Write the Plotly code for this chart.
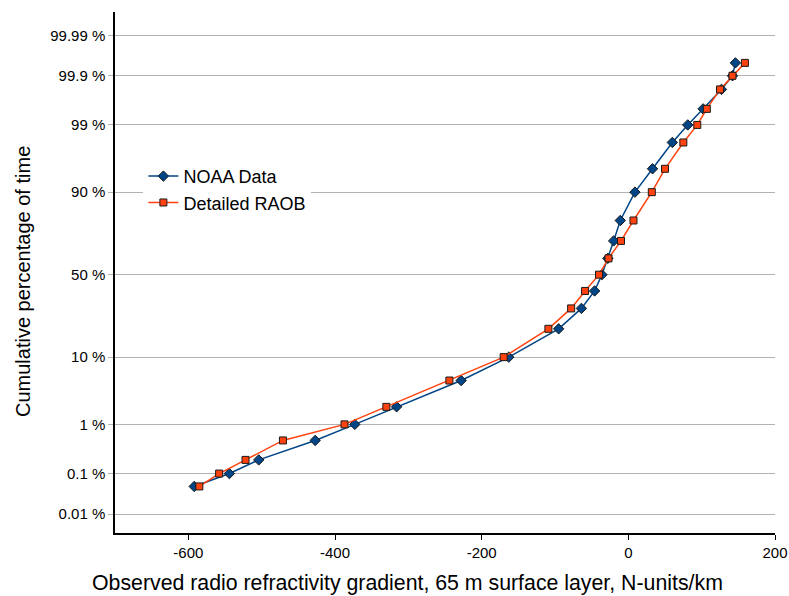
import plotly.graph_objects as go
from statistics import NormalDist

# Cumulative percentages (%) at which both series are sampled
percent = [0.05, 0.1, 0.2, 0.5, 1, 2, 5, 10, 20, 30, 40, 50, 60, 70, 80,
           90, 95, 98, 99, 99.5, 99.8, 99.9, 99.95]

# Observed radio refractivity gradient (N-units/km)
noaa = [-592, -544, -504, -427, -373, -316, -228, -163, -95, -64, -46, -36,
        -28, -20, -11, 9, 33, 60, 81, 102, 127, 142, 146]
raob = [-585, -558, -522, -471, -387, -330, -244, -170, -109, -78, -59, -40,
        -27, -10, 7, 32, 50, 75, 94, 107, 125, 142, 159]

# Probability-scale tick labels
tick_percent = [0.01, 0.1, 1, 10, 50, 90, 99, 99.9, 99.99]
tick_text = ["0.01 %", "0.1 %", "1 %", "10 %", "50 %", "90 %", "99 %", "99.9 %", "99.99 %"]

# X-axis ticks
x_ticks = [-600, -400, -200, 0, 200]
x_tick_text = ["-600", "-400", "-200", "0", "200"]

x_title = "Observed radio refractivity gradient, 65 m surface layer, N-units/km"
y_title = "Cumulative percentage of time"

nd = NormalDist()
def probit(p):
    return nd.inv_cdf(p / 100.0)

fig = go.Figure()
fig.add_trace(go.Scatter(
    x=noaa, y=[probit(p) for p in percent], name="NOAA Data",
    mode="lines+markers",
    line=dict(color="#004586", width=1.5),
    marker=dict(symbol="diamond", size=8, color="#004586",
                line=dict(color="#1a1a1a", width=1)),
))
fig.add_trace(go.Scatter(
    x=raob, y=[probit(p) for p in percent], name="Detailed RAOB",
    mode="lines+markers",
    line=dict(color="#ff420e", width=1.5),
    marker=dict(symbol="square", size=7, color="#ff420e",
                line=dict(color="#1a1a1a", width=1)),
))

fig.update_layout(
    width=789, height=596,
    margin=dict(l=115, r=14, t=12, b=63),
    paper_bgcolor="white", plot_bgcolor="white",
    font=dict(family="Liberation Sans, Arial, sans-serif", color="#000000", size=15),
    showlegend=True,
    legend=dict(x=0.043, y=0.72, xanchor="left", yanchor="top",
                bgcolor="white", borderwidth=0,
                font=dict(size=18, color="#000000"),
                tracegroupgap=0, itemwidth=30),
    xaxis=dict(
        range=[-700, 200], tickvals=x_ticks, ticktext=x_tick_text,
        showgrid=False, zeroline=False, automargin=False,
        showline=True, linecolor="#000000", linewidth=1.5,
        ticks="outside", ticklen=5, tickcolor="#000000",
        tickfont=dict(size=15, color="#000000"),
    ),
    yaxis=dict(
        range=[-4.014, 4.081],
        tickvals=[probit(p) for p in tick_percent], ticktext=tick_text,
        showgrid=True, gridcolor="#b3b3b3", gridwidth=1, zeroline=False,
        automargin=False,
        showline=True, linecolor="#000000", linewidth=1.5,
        ticks="outside", ticklen=5, tickcolor="#b3b3b3",
        tickfont=dict(size=15, color="#000000"),
    ),
    annotations=[
        dict(text=x_title, xref="paper", yref="paper",
             x=(407 - 115) / 660, y=-(583 - 533) / 521,
             xanchor="center", yanchor="middle", showarrow=False,
             font=dict(size=21.3, color="#000000")),
        dict(text=y_title, xref="paper", yref="paper", textangle=-90,
             x=-(115 - 23) / 660, y=(533 - 282) / 521,
             xanchor="center", yanchor="middle", showarrow=False,
             font=dict(size=20, color="#000000")),
    ],
)

fig.write_html("out.html")
